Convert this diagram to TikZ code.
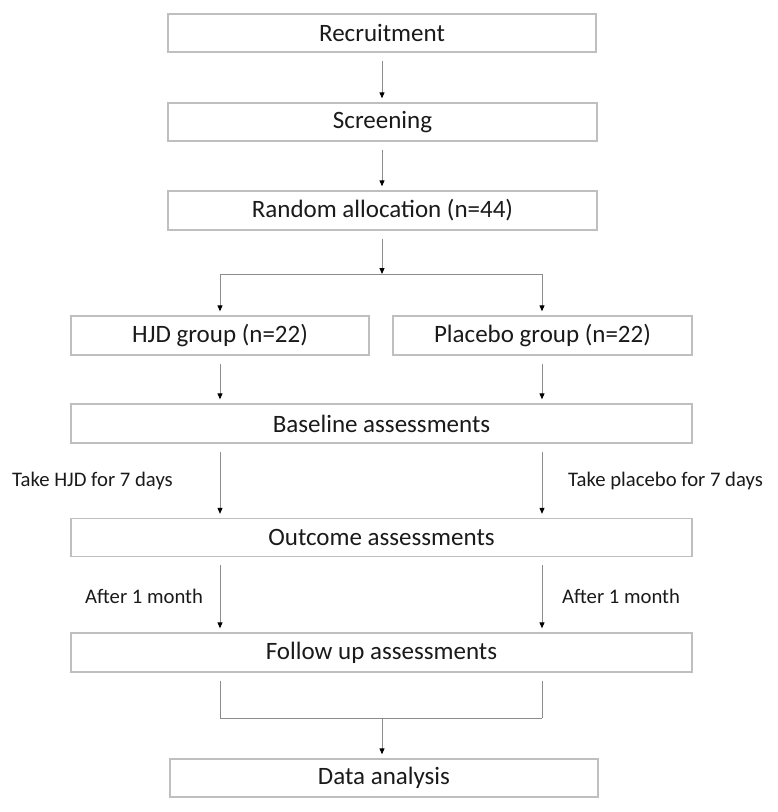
\documentclass[tikz,border=0pt]{standalone}
\usepackage{fontspec}
\setmainfont{Carlito}
\usetikzlibrary{arrows.meta}
\definecolor{boxline}{HTML}{BFBFBF}
\definecolor{conn}{HTML}{8C8C8C}
\definecolor{txt}{HTML}{1A1A1A}
\begin{document}
\begin{tikzpicture}[x=1pt,y=-1pt,
  box/.style={draw=boxline,line width=1.3pt,rectangle,inner sep=0pt,text=txt,
    font=\fontsize{25}{30}\selectfont},
  lbl/.style={anchor=west,inner sep=0pt,text=txt,font=\fontsize{20.7}{25}\selectfont},
  conline/.style={draw=conn,line width=0.9pt},
  arr/.style={conline,-{Triangle[length=6pt,width=5pt,fill=black,color=black]}}
]
\useasboundingbox (0,0) rectangle (778,812);
\node[box,minimum width=428pt,minimum height=38pt] (rec) at (382,33) {Recruitment};
\node[box,minimum width=429pt,minimum height=38pt] (scr) at (382.5,122) {Screening};
\node[box,minimum width=429pt,minimum height=39pt] (rand) at (382.5,210.5) {Random allocation (n=44)};
\node[box,minimum width=298pt,minimum height=39pt] (hjd) at (220,335.5) {HJD group (n=22)};
\node[box,minimum width=299pt,minimum height=39pt] (plc) at (542.5,335.5) {Placebo group (n=22)};
\node[box,minimum width=621pt,minimum height=39pt] (base) at (381.5,423.5) {Baseline assessments};
\node[box,minimum width=621pt,minimum height=38pt] (out) at (381.5,537.5) {Outcome assessments};
\node[box,minimum width=621pt,minimum height=39pt] (fol) at (381.5,652.5) {Follow up assessments};
\node[box,minimum width=428pt,minimum height=38pt] (data) at (384,778) {Data analysis};

\coordinate (cx) at (382,0);
\coordinate (lx) at (220,0);
\coordinate (rx) at (542,0);
\coordinate (br) at (382,274);
\coordinate (bl) at (220,274);
\coordinate (brr) at (542,274);
\coordinate (mg) at (382,718);
\coordinate (ml) at (220,718);
\coordinate (mr) at (542,718);

\node[lbl] (l1) at (12,481) {Take HJD for 7 days};
\node[lbl] (l2) at (568,481) {Take placebo for 7 days};
\node[lbl] (l3) at (85,596) {After 1 month};
\node[lbl] (l4) at (562,596) {After 1 month};

\draw[arr,shorten <=8pt,shorten >=4pt] (rec.south -| cx) -- (scr.north -| cx);
\draw[arr,shorten <=8pt,shorten >=4pt] (scr.south -| cx) -- (rand.north -| cx);
\draw[arr,shorten <=8pt] (rand.south -| cx) -- (br);
\draw[conline] (bl) -- (brr);
\draw[arr,shorten >=4pt] (bl) -- (hjd.north -| lx);
\draw[arr,shorten >=4pt] (brr) -- (plc.north -| rx);
\draw[arr,shorten <=8pt,shorten >=4pt] (hjd.south -| lx) -- (base.north -| lx);
\draw[arr,shorten <=8pt,shorten >=4pt] (plc.south -| rx) -- (base.north -| rx);
\draw[arr,shorten <=8pt,shorten >=4pt] (base.south -| lx) -- (out.north -| lx);
\draw[arr,shorten <=8pt,shorten >=4pt] (base.south -| rx) -- (out.north -| rx);
\draw[arr,shorten <=8pt,shorten >=4pt] (out.south -| lx) -- (fol.north -| lx);
\draw[arr,shorten <=8pt,shorten >=4pt] (out.south -| rx) -- (fol.north -| rx);
\draw[conline,shorten <=8pt] (fol.south -| lx) -- (ml);
\draw[conline,shorten <=8pt] (fol.south -| rx) -- (mr);
\draw[conline] (ml) -- (mr);
\draw[arr,shorten >=4pt] (mg) -- (data.north -| cx);
\end{tikzpicture}
\end{document}
